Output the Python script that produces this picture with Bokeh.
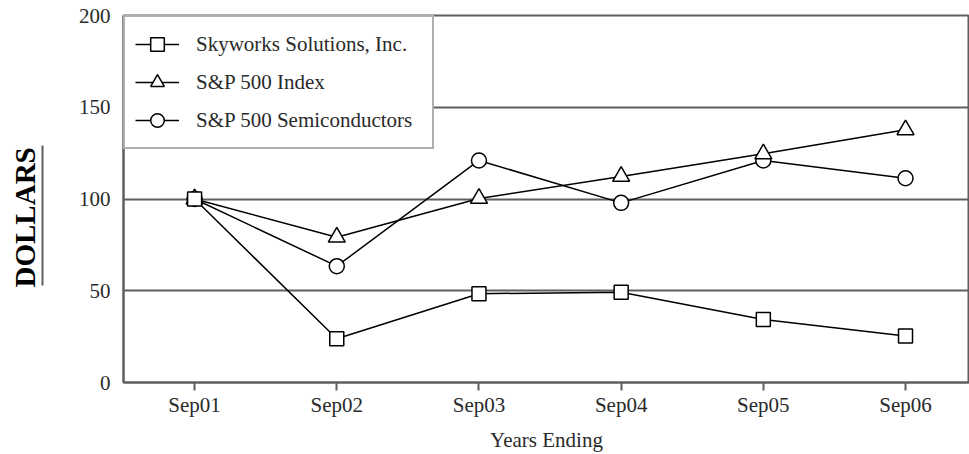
from bokeh.plotting import figure
from bokeh.models import (Range1d, FixedTicker, Legend, LegendItem, LinearAxis, Title)
from bokeh.embed import file_html
from bokeh.resources import INLINE

# ---- data ----
categories = ["Sep01", "Sep02", "Sep03", "Sep04", "Sep05", "Sep06"]
skyworks = [100, 23.8, 48.4, 49.2, 34.3, 25.3]
sp500 = [100, 79.2, 100.3, 112.3, 124.6, 137.7]
sp_semis = [100, 63.4, 121.0, 97.9, 121.0, 111.3]
y_ticks = [0, 50, 100, 150, 200]
series_names = ["Skyworks Solutions, Inc.", "S&P 500 Index", "S&P 500 Semiconductors"]

xs = list(range(len(categories)))

FONT = "Liberation Serif"
GRAY = "#5f5f5f"
TXT = "#2a2a2a"
FS = "21px"

p = figure(frame_width=846, frame_height=367,
           x_range=Range1d(-0.5, 5.45), y_range=Range1d(0, 200),
           output_backend="svg", toolbar_location=None,
           min_border_left=123, min_border_right=0, min_border_top=15, min_border_bottom=72)
p.background_fill_color = "white"
p.border_fill_color = "white"
p.outline_line_color = GRAY
p.outline_line_width = 2

# grid
p.xgrid.grid_line_color = None
p.ygrid.ticker = FixedTicker(ticks=[50, 100, 150])
p.ygrid.grid_line_color = GRAY
p.ygrid.grid_line_width = 2

# x axis
p.xaxis.ticker = FixedTicker(ticks=xs)
p.xaxis.major_label_overrides = {i: c for i, c in zip(xs, categories)}
p.xaxis.axis_line_color = GRAY
p.xaxis.axis_line_width = 2
p.xaxis.major_tick_line_color = GRAY
p.xaxis.major_tick_line_width = 2
p.xaxis.major_tick_out = 8
p.xaxis.major_tick_in = 0
p.xaxis.minor_tick_line_color = None
p.xaxis.major_label_standoff = 2
p.xaxis.major_label_text_font = FONT
p.xaxis.major_label_text_font_size = FS
p.xaxis.major_label_text_color = TXT
p.xaxis.axis_label = "Years Ending"
p.xaxis.axis_label_text_font = FONT
p.xaxis.axis_label_text_font_size = FS
p.xaxis.axis_label_text_font_style = "normal"
p.xaxis.axis_label_text_color = TXT
p.xaxis.axis_label_standoff = 8

# y axis (tick labels)
p.yaxis.ticker = FixedTicker(ticks=y_ticks)
p.yaxis.axis_line_color = GRAY
p.yaxis.axis_line_width = 2
p.yaxis.major_tick_line_color = None
p.yaxis.major_tick_out = 0
p.yaxis.major_tick_in = 0
p.yaxis.minor_tick_line_color = None
p.yaxis.major_label_standoff = 13
p.yaxis.major_label_text_font = FONT
p.yaxis.major_label_text_font_size = FS
p.yaxis.major_label_text_color = TXT

# spacer axis (invisible) between tick labels and the underline
spacer = LinearAxis(ticker=FixedTicker(ticks=[100]), major_label_overrides={100: ""},
                    axis_line_color=None, major_tick_line_color=None,
                    minor_tick_line_color=None, major_tick_out=33, major_tick_in=0,
                    minor_tick_out=0, major_label_standoff=0)
p.add_layout(spacer, "left")

# short axis line = underline of "DOLLARS"
underline = LinearAxis(ticker=FixedTicker(ticks=[]), bounds=(52.9, 129.2),
                       axis_line_color=GRAY, axis_line_width=2,
                       major_tick_line_color=None, minor_tick_line_color=None,
                       major_tick_out=0, major_tick_in=0, minor_tick_out=0)
p.add_layout(underline, "left")

p.add_layout(Title(text="DOLLARS", align="left", offset=95, standoff=4,
                   text_font=FONT, text_font_size="29px", text_font_style="bold",
                   text_color="black"), "left")

# series
r_semi_l = p.line(xs, sp_semis, line_color="black", line_width=1.5)
r_semi_m = p.scatter(xs, sp_semis, marker="circle", size=15, fill_color="white",
                     line_color="black", line_width=1.5)
r_sp_l = p.line(xs, sp500, line_color="black", line_width=1.5)
r_sp_m = p.scatter(xs, sp500, marker="triangle", size=17, fill_color="white",
                   line_color="black", line_width=1.5)
r_sky_l = p.line(xs, skyworks, line_color="black", line_width=1.5)
r_sky_m = p.scatter(xs, skyworks, marker="square", size=14, fill_color="white",
                    line_color="black", line_width=1.5)

legend = Legend(items=[
    LegendItem(label=series_names[0], renderers=[r_sky_l, r_sky_m]),
    LegendItem(label=series_names[1], renderers=[r_sp_l, r_sp_m]),
    LegendItem(label=series_names[2], renderers=[r_semi_l, r_semi_m]),
], location="top_left")
legend.margin = 0
legend.padding = 10
legend.spacing = 4
legend.glyph_width = 44
legend.glyph_height = 34
legend.label_standoff = 17
legend.label_width = 226
legend.label_text_font = FONT
legend.label_text_font_size = FS
legend.label_text_color = TXT
legend.border_line_color = GRAY
legend.border_line_width = 2
legend.background_fill_color = "white"
legend.background_fill_alpha = 1.0
p.add_layout(legend, "center")

open("out.html", "w").write(file_html(p, INLINE))
